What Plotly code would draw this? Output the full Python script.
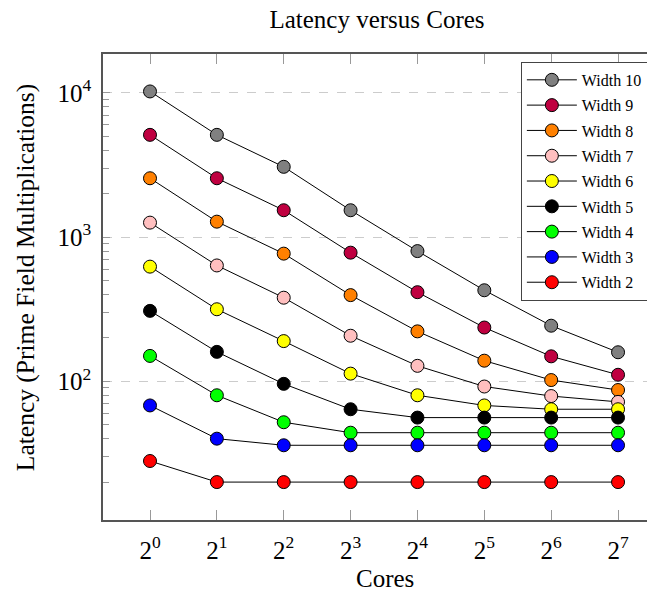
import plotly.graph_objects as go

cores = [1, 2, 4, 8, 16, 32, 64, 128]
core_labels = ["2<sup>%d</sup>" % i for i in range(8)]

series_names = ["Width 10", "Width 9", "Width 8", "Width 7", "Width 6",
                "Width 5", "Width 4", "Width 3", "Width 2"]
width10 = [10240, 5120, 3072, 1536, 800, 428, 243, 159]
width9 = [5120, 2560, 1536, 780, 415, 236, 149, 111]
width8 = [2560, 1280, 768, 396, 222, 139, 102, 87]
width7 = [1260, 636, 380, 207, 128, 92, 79, 72]
width6 = [624, 316, 190, 113, 80, 68, 64, 64]
width5 = [308, 160, 96, 64, 56, 56, 56, 56]
width4 = [150, 80, 52, 44, 44, 44, 44, 44]
width3 = [68, 40, 36, 36, 36, 36, 36, 36]
width2 = [28, 20, 20, 20, 20, 20, 20, 20]
series_values = [width10, width9, width8, width7, width6, width5, width4, width3, width2]
series_colors = ["#808080", "#BF0040", "#FF8000", "#FFBFBF", "#FFFF00",
                 "#000000", "#00FF00", "#0000FF", "#FF0000"]

y_major = [100, 1000, 10000]
y_major_labels = ["10<sup>2</sup>", "10<sup>3</sup>", "10<sup>4</sup>"]
y_minor = [m * 10 ** e for e in range(1, 5) for m in range(2, 10)]

SERIF = "Liberation Serif, Times New Roman, serif"

fig = go.Figure()
for name, vals, col in zip(series_names, series_values, series_colors):
    fig.add_trace(go.Scatter(
        x=cores, y=vals, name=name, mode="lines+markers",
        legendgroup=name,
        line=dict(color="black", width=1),
        marker=dict(symbol="circle", size=13, color=col,
                    line=dict(color="black", width=1)),
    ))

fig.update_layout(
    width=655, height=593,
    margin=dict(l=95, r=8, t=46, b=81),
    paper_bgcolor="white", plot_bgcolor="white",
    font=dict(family=SERIF, color="black", size=24),
    title=dict(text="Latency versus Cores", xref="container", yref="container",
               x=369 / 655, xanchor="center",
               y=1 - 11 / 593, yanchor="middle",
               font=dict(size=25)),
    showlegend=True,
    legend=dict(x=0.757, y=0.983, xanchor="left", yanchor="top",
                bgcolor="white", bordercolor="#444", borderwidth=1,
                font=dict(size=16), itemwidth=50,
                traceorder="grouped", tracegroupgap=1.5),
    annotations=[
        dict(text="Cores", xref="paper", yref="paper", x=0.511, y=0,
             yshift=-58, xanchor="center", yanchor="middle",
             showarrow=False, font=dict(size=25)),
        dict(text="Latency (Prime Field Multiplications)", xref="paper", yref="paper",
             x=0, xshift=-78, y=0.519, xanchor="center", yanchor="middle",
             textangle=-90, showarrow=False, font=dict(size=25.5)),
    ],
)

fig.update_xaxes(
    type="log", range=[-0.2116, 2.2736], automargin=False,
    tickmode="array", tickvals=cores, ticktext=core_labels,
    ticks="inside", ticklen=10, tickcolor="#999", tickwidth=1,
    ticklabelstandoff=7,
    showline=True, linecolor="#555", linewidth=1.5, mirror="ticks",
    showgrid=False, zeroline=False,
    tickfont=dict(size=25),
)
fig.update_yaxes(
    type="log", range=[1.038, 4.27], automargin=False,
    tickmode="array", tickvals=y_major, ticktext=y_major_labels,
    ticks="inside", ticklen=7, tickcolor="#999", tickwidth=1,
    ticklabelstandoff=5,
    minor=dict(tickmode="array", tickvals=y_minor, ticks="inside",
               ticklen=6, tickcolor="#999", tickwidth=1, showgrid=False),
    showline=True, linecolor="#555", linewidth=1.5,
    showgrid=True, gridcolor="#cccccc", griddash="dash", gridwidth=1,
    zeroline=False,
    tickfont=dict(size=25),
)

fig.write_html("out.html")
